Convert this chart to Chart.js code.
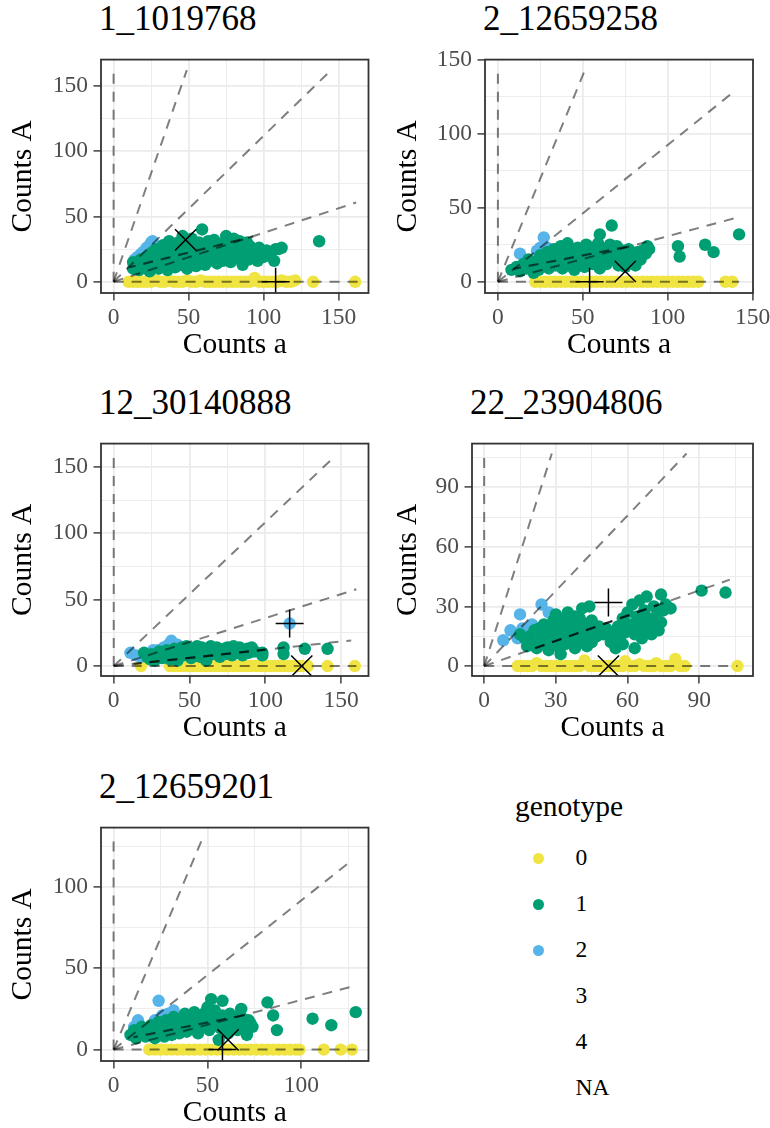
<!DOCTYPE html>
<html>
<head>
<meta charset="utf-8">
<script src="https://cdn.jsdelivr.net/npm/chart.js@4.4.0/dist/chart.umd.min.js"></script>
<style>
  html, body { margin: 0; padding: 0; background: #fff; overflow: hidden; }
  #page { position: relative; width: 770px; height: 1128px; font-family: 'Liberation Serif', serif; }
  canvas { position: absolute; }
  .ptitle { position: absolute; font-size: 35px; line-height: 35px; color: #000; white-space: nowrap; z-index: 2; }
  .legtitle { position: absolute; left: 515px; top: 792px; font-size: 29.5px; line-height: 29.5px; color: #000; }
  .legdot { position: absolute; width: 11px; height: 11px; border-radius: 50%; }
  .leglab { position: absolute; left: 575.5px; font-size: 23.5px; line-height: 23.5px; color: #000; }
</style>
</head>
<body>
<div id="page"></div>
<script>
// genotype levels and colours
const genotypeLevels = ['0', '1', '2', '3', '4', 'NA'];
const genotypeColors = { '0': '#F0E442', '1': '#009E73', '2': '#56B4E9' };

// ---- 1_1019768
const p1Geno0 = [[10,0],[13,0],[16,0],[19,0],[22,0],[25,0],[28,1],[31,0],[34,0],[37,1],[40,0],[43,0],[46,0],[49,1],[52,0],[55,0],[58,1],[61,0],[64,0],[67,0],[70,0],[73,0],[76,0],[79,0],[82,0],[85,0],[88,0],[91,0],[94,3],[97,0],[100,0],[103,0],[106,0],[109,0],[112,1],[115,0],[118,0],[121,1],[133,0],[161,0]];
const p1Geno1 = [[13,10],[13,15],[15,12],[17,9],[18,17],[20,14],[22,19],[24,8],[25,12],[25,22],[27,16],[28,25],[30,10],[30,20],[32,13],[33,28],[34,17],[35,23],[36,9],[37,31],[38,14],[39,20],[40,26],[41,11],[42,17],[43,30],[44,22],[45,13],[46,35],[47,19],[48,27],[49,10],[50,24],[51,16],[52,33],[53,20],[54,28],[55,12],[56,22],[57,30],[58,17],[59,40],[60,25],[61,13],[62,20],[63,31],[64,16],[65,27],[66,23],[67,32],[68,18],[69,14],[70,26],[71,21],[72,29],[73,16],[74,24],[75,35],[76,20],[77,30],[78,15],[79,25],[80,33],[81,22],[82,28],[83,18],[84,31],[86,13],[86,26],[88,22],[89,30],[90,17],[91,27],[93,24],[95,20],[96,16],[97,26],[98,23],[100,19],[102,24],[105,22],[107,16],[108,25],[110,25],[112,26],[137,31]];
const p1Geno2 = [[14,17],[16,19],[18,21],[20,23],[22,26],[24,28],[25,30],[26,31]];
const p1Plus = [[108,0]];
const p1Cross = [[48,32]];
const p1Guides = [[0,161],[48.8,162],[145,162],[161.7,60.6],[165,0]];
const p1Fit = [[10.6,11.1],[93,34.6]];

// ---- 2_12659258
const p2Geno0 = [[22,0],[25,0],[28,0],[31,0],[34,0],[37,0],[40,0],[43,0],[46,0],[49,0],[52,0],[55,0],[58,0],[61,0],[64,0],[67,0],[70,0],[73,0],[76,0],[79,0],[82,0],[85,0],[88,0],[91,0],[94,0],[97,0],[100,0],[103,0],[106,0],[109,0],[112,0],[115,0],[118,0],[134,0],[138,0]];
const p2Geno1 = [[8,8],[11,10],[13,7],[15,12],[17,9],[18,15],[20,11],[21,6],[23,14],[24,8],[25,18],[26,11],[28,15],[29,20],[30,9],[31,13],[32,17],[33,22],[34,11],[35,15],[36,19],[37,24],[38,9],[39,13],[40,17],[41,26],[42,11],[43,21],[44,15],[45,8],[46,19],[47,23],[48,12],[49,16],[50,21],[51,10],[52,25],[53,14],[54,18],[55,23],[56,12],[57,16],[58,20],[59,26],[60,9],[60,32],[61,14],[62,18],[63,22],[64,12],[65,17],[66,25],[67,38],[68,15],[69,20],[70,24],[71,11],[72,18],[73,14],[74,21],[75,10],[76,17],[77,22],[78,13],[79,19],[80,16],[81,11],[82,20],[83,17],[84,15],[85,21],[87,19],[88,24],[89,22],[106,24],[107,17],[122,25],[127,20],[142,32]];
const p2Geno2 = [[13,19],[23,21],[25,23],[27,30],[29,23]];
const p2Plus = [[54,0]];
const p2Cross = [[75,7]];
const p2Guides = [[0,142],[51.6,144],[138.5,128],[142,43.7],[142,0]];
const p2Fit = [[9,8.7],[78,24]];

// ---- 12_30140888
const p3Geno0 = [[18,0],[37,0],[40,0],[43,0],[46,0],[49,0],[52,0],[55,0],[58,0],[61,0],[64,0],[67,0],[70,0],[73,0],[76,0],[79,0],[82,0],[85,0],[88,0],[91,0],[94,0],[97,0],[100,0],[103,0],[106,0],[109,0],[112,0],[115,0],[118,0],[121,0],[124,0],[128,0],[141,0],[159,0]];
const p3Geno1 = [[20,10],[22,7],[24,5],[25,9],[27,4],[28,8],[30,11],[32,6],[34,9],[35,12],[37,5],[38,10],[40,13],[41,7],[42,4],[43,11],[45,14],[46,8],[47,12],[48,15],[50,10],[51,6],[52,13],[53,9],[55,15],[56,11],[57,7],[58,14],[60,10],[61,4],[62,13],[63,8],[64,15],[65,11],[67,9],[68,14],[69,12],[70,7],[71,10],[73,13],[74,9],[75,14],[76,11],[78,8],[79,15],[80,12],[82,10],[83,14],[85,8],[86,12],[88,13],[89,10],[91,14],[93,11],[98,10],[98,8],[112,14],[112,9],[126,13],[141,13]];
const p3Geno2 = [[11,10],[15,8],[18,7],[22,9],[26,12],[29,12],[33,14],[36,16],[38,19],[42,16],[45,14],[116,32]];
const p3Plus = [[116,32]];
const p3Cross = [[124,0]];
const p3Guides = [[0,158],[144.5,156.5],[160,57.8],[156.6,19.3],[160,0]];
const p3Fit = [[13,1.6],[100,12.32]];

// ---- 22_23904806
const p4Geno0 = [[14,0],[16,0],[18,0],[20,0],[22,1.5],[24,0],[26,0],[28,0],[30,0],[32,0],[34,0],[36,0],[38,0],[40,0],[42,2.8],[44,0],[46,0],[48,0],[50,0],[52,0],[54,0],[56,0],[58,0],[59,2.4],[61,0],[63,0],[65,1],[67,0],[69,0],[71,0],[72,1.5],[74,0],[76,0],[78,0],[80,3.6],[82,0],[84,0],[106,0]];
const p4Geno1 = [[15,16],[17,14],[18,10],[19,15],[20,12],[21,18],[22,9],[23,19],[24,14],[25,11],[25,21],[26,16],[27,20],[27,8],[28,12],[29,23],[29,17],[30,14],[30,26],[31,10],[31,19],[32,6],[32,22],[33,16],[33,13],[34,24],[34,11],[35,19],[35,27],[36,15],[36,22],[37,12],[37,18],[38,25],[38,9],[39,20],[39,15],[40,24],[40,12],[41,17],[41,29],[42,21],[42,14],[43,19],[43,10],[44,16],[44,30],[45,23],[45,12],[46,18],[47,15],[48,20],[49,17],[50,16],[51,19],[53,12],[54,17],[55,9],[56,20],[57,15],[58,24],[58,11],[59,17],[60,27],[61,21],[62,31],[63,16],[63,9],[64,25],[64,19],[65,33],[66,22],[66,14],[67,28],[68,18],[68,35],[69,24],[70,16],[71,30],[71,21],[72,25],[73,18],[74,36],[74,22],[75,28],[76,31],[78,29],[91,38],[101,37]];
const p4Geno2 = [[8,13],[11,18],[14,14],[15,26],[16,19],[20,21],[24,31],[27,27]];
const p4Plus = [[52,32]];
const p4Cross = [[52,0]];
const p4Guides = [[0,105.5],[28.3,107],[84.7,107],[102.8,43.5],[106,0]];
const p4Fit = [[18,7.62],[73,30.9]];

// ---- 2_12659201
const p5Geno0 = [[19,0],[22,0],[25,0],[28,0],[31,0],[34,0],[37,0],[40,0],[43,0],[46,0],[49,0],[52,0],[55,0],[58,0],[61,0],[64,0],[67,0],[70,0],[73,0],[76,0],[79,0],[82,0],[85,0],[88,0],[91,0],[94,0],[97,0],[99,0],[112,0],[121,0],[127,0]];
const p5Geno1 = [[9,9],[11,12],[12,7],[14,10],[15,14],[17,8],[18,12],[20,15],[21,10],[22,7],[23,13],[24,17],[25,10],[26,14],[27,8],[28,18],[29,12],[30,15],[31,9],[32,20],[33,13],[34,16],[35,10],[36,19],[37,14],[38,22],[39,11],[40,17],[41,20],[42,13],[43,23],[44,16],[45,10],[46,19],[47,14],[48,22],[49,17],[50,26],[51,12],[52,31],[52,20],[53,15],[54,24],[55,18],[56,6],[57,13],[58,21],[58,30],[59,16],[60,19],[61,10],[62,22],[63,14],[64,17],[65,20],[66,12],[67,16],[68,25],[69,19],[70,15],[71,9],[72,18],[73,16],[74,14],[82,29],[85,21],[87,12],[106,19],[116,15],[129,23]];
const p5Geno2 = [[11,14],[13,18],[22,18],[24,30],[26,21],[29,22],[32,24]];
const p5Plus = [[58,0]];
const p5Cross = [[61,6]];
const p5Guides = [[0,129],[47.8,131],[126.6,116],[129.2,39.4],[129,0]];
const p5Fit = [[10.6,7.6],[71,21.5]];

// axis ticks
const ticks50Major = [0, 50, 100, 150];
const ticks50Minor = [25, 75, 125, 175];
const ticks30Major = [0, 30, 60, 90];
const ticks30Minor = [15, 45, 75, 105];

const panels = [
  { name: '1_1019768', g0: p1Geno0, g1: p1Geno1, g2: p1Geno2, plus: p1Plus, cross: p1Cross, guides: p1Guides, fit: p1Fit,
    xLim: [-8.4, 169.9], yLim: [-8.6, 170], xMajor: ticks50Major, xMinor: ticks50Minor, yMajor: ticks50Major, yMinor: ticks50Minor,
    box: { left: 0, top: 40, width: 385, height: 330, plotL: 101, plotR: 369, plotT: 53, plotB: 293 } },
  { name: '2_12659258', g0: p2Geno0, g1: p2Geno1, g2: p2Geno2, plus: p2Plus, cross: p2Cross, guides: p2Guides, fit: p2Fit,
    xLim: [-7.6, 150.2], yLim: [-7.6, 150.1], xMajor: ticks50Major, xMinor: ticks50Minor, yMajor: ticks50Major, yMinor: ticks50Minor,
    box: { left: 385, top: 40, width: 400, height: 330, plotL: 485, plotR: 753, plotT: 53, plotB: 293 } },
  { name: '12_30140888', g0: p3Geno0, g1: p3Geno1, g2: p3Geno2, plus: p3Plus, cross: p3Cross, guides: p3Guides, fit: p3Fit,
    xLim: [-8.4, 168], yLim: [-7.5, 167.5], xMajor: ticks50Major, xMinor: ticks50Minor, yMajor: ticks50Major, yMinor: ticks50Minor,
    box: { left: 0, top: 424, width: 385, height: 329, plotL: 101, plotR: 369, plotT: 437, plotB: 676 } },
  { name: '22_23904806', g0: p4Geno0, g1: p4Geno1, g2: p4Geno2, plus: p4Plus, cross: p4Cross, guides: p4Guides, fit: p4Fit,
    xLim: [-5.1, 112.5], yLim: [-5, 112], xMajor: ticks30Major, xMinor: ticks30Minor, yMajor: ticks30Major, yMinor: ticks30Minor,
    box: { left: 385, top: 424, width: 400, height: 329, plotL: 472, plotR: 753, plotT: 437, plotB: 676 } },
  { name: '2_12659201', g0: p5Geno0, g1: p5Geno1, g2: p5Geno2, plus: p5Plus, cross: p5Cross, guides: p5Guides, fit: p5Fit,
    xLim: [-6.7, 135.8], yLim: [-7, 136.4], xMajor: ticks50Major, xMinor: ticks50Minor, yMajor: ticks50Major, yMinor: ticks50Minor,
    box: { left: 0, top: 808, width: 385, height: 330, plotL: 101, plotR: 369, plotT: 821, plotB: 1061 } }
];

const DASH = [10, 8];

Chart.defaults.font.family = "'Liberation Serif', serif";

const pts = arr => arr.map(([x, y]) => ({ x, y }));

// full panel border, drawn over the data like ggplot does
const panelBorder = {
  id: 'panelBorder',
  afterDraw(chart) {
    const { ctx, chartArea: a } = chart;
    ctx.save();
    ctx.strokeStyle = '#333333';
    ctx.lineWidth = 1.8;
    ctx.strokeRect(a.left, a.top, a.right - a.left, a.bottom - a.top);
    ctx.restore();
  }
};

function axisOpts(lim, major, minor, isX, fitSize, titleText) {
  const all = major.concat(minor).filter(v => v >= lim[0] && v <= lim[1]).sort((a, b) => a - b);
  const isMajor = v => major.includes(v);
  return {
    type: 'linear',
    min: lim[0],
    max: lim[1],
    afterBuildTicks: s => { s.ticks = all.map(v => ({ value: v })); },
    afterFit: s => { if (isX) s.height = fitSize; else s.width = fitSize; },
    border: { display: false },
    grid: {
      color: '#EBEBEB',
      lineWidth: c => isMajor(c.tick.value) ? 1.8 : 0.9,
      drawTicks: true,
      tickLength: 7.5,
      tickWidth: 1.4,
      tickColor: c => isMajor(c.tick.value) ? '#333333' : 'rgba(0,0,0,0)'
    },
    ticks: {
      autoSkip: false,
      maxRotation: 0,
      padding: isX ? 3 : 5.5,
      color: '#4D4D4D',
      font: { size: 23.5 },
      callback: v => isMajor(v) ? String(v) : ''
    },
    title: {
      display: true,
      text: titleText,
      color: '#000',
      font: { size: 29.5 },
      padding: { top: 6, bottom: 7 }
    }
  };
}

// phase of the dark segment so its dashes line up with a guide drawn from the origin
function dashPhase(p, start) {
  const b = p.box;
  const kx = (b.plotR - b.plotL) / (p.xLim[1] - p.xLim[0]);
  const ky = (b.plotB - b.plotT) / (p.yLim[1] - p.yLim[0]);
  const d = Math.hypot(start[0] * kx, start[1] * ky);
  return d % (DASH[0] + DASH[1]);
}

function buildDatasets(p) {
  const ds = [];
  p.guides.forEach(end => ds.push({
    data: pts([[0, 0], end]), showLine: true, borderColor: 'rgba(0,0,0,0.5)', borderWidth: 2,
    borderDash: DASH, pointRadius: 0, order: 1, clip: 0
  }));
  ds.push({
    data: pts(p.fit), showLine: true, borderColor: 'rgba(0,0,0,0.6)', borderWidth: 2.2,
    borderDash: DASH, borderDashOffset: dashPhase(p, p.fit[0]), pointRadius: 0, order: 1, clip: 0
  });
  [['2', p.g2, 3], ['0', p.g0, 3], ['1', p.g1, 2]].forEach(([g, arr, ord]) => ds.push({
    data: pts(arr), pointRadius: 6.2, pointBackgroundColor: genotypeColors[g], pointBorderWidth: 0,
    order: ord, clip: 0
  }));
  ds.push({ data: pts(p.plus), pointStyle: 'cross', pointRadius: 14, pointBorderColor: '#000', pointBorderWidth: 1.5, order: 0, clip: 0 });
  ds.push({ data: pts(p.cross), pointStyle: 'crossRot', pointRadius: 15, pointBorderColor: '#000', pointBorderWidth: 1.5, order: 0, clip: 0 });
  return ds;
}

const page = document.getElementById('page');

panels.forEach(p => {
  const b = p.box;
  const cv = document.createElement('canvas');
  cv.width = b.width;
  cv.height = b.height;
  cv.style.left = b.left + 'px';
  cv.style.top = b.top + 'px';
  page.appendChild(cv);

  const t = document.createElement('div');
  t.className = 'ptitle';
  t.textContent = p.name;
  t.style.left = (b.plotL - 2) + 'px';
  t.style.top = (b.plotT - 52) + 'px';
  page.appendChild(t);

  new Chart(cv, {
    type: 'scatter',
    data: { datasets: buildDatasets(p) },
    options: {
      responsive: false,
      animation: false,
      devicePixelRatio: 1,
      events: [],
      layout: { padding: { left: 0, top: b.plotT - b.top, right: b.left + b.width - b.plotR, bottom: 0 } },
      plugins: { legend: { display: false }, tooltip: { enabled: false } },
      scales: {
        x: axisOpts(p.xLim, p.xMajor, p.xMinor, true, b.top + b.height - b.plotB, 'Counts a'),
        y: axisOpts(p.yLim, p.yMajor, p.yMinor, false, b.plotL - b.left, 'Counts A')
      }
    },
    plugins: [panelBorder]
  });
});

// legend
const lt = document.createElement('div');
lt.className = 'legtitle';
lt.textContent = 'genotype';
page.appendChild(lt);
genotypeLevels.forEach((g, i) => {
  const cy = 858 + i * 46;
  if (genotypeColors[g]) {
    const d = document.createElement('div');
    d.className = 'legdot';
    d.style.background = genotypeColors[g];
    d.style.left = (538 - 5.5) + 'px';
    d.style.top = (cy - 5.5) + 'px';
    page.appendChild(d);
  }
  const l = document.createElement('div');
  l.className = 'leglab';
  l.textContent = g;
  l.style.top = (cy - 11.75) + 'px';
  page.appendChild(l);
});
</script>
</body>
</html>
